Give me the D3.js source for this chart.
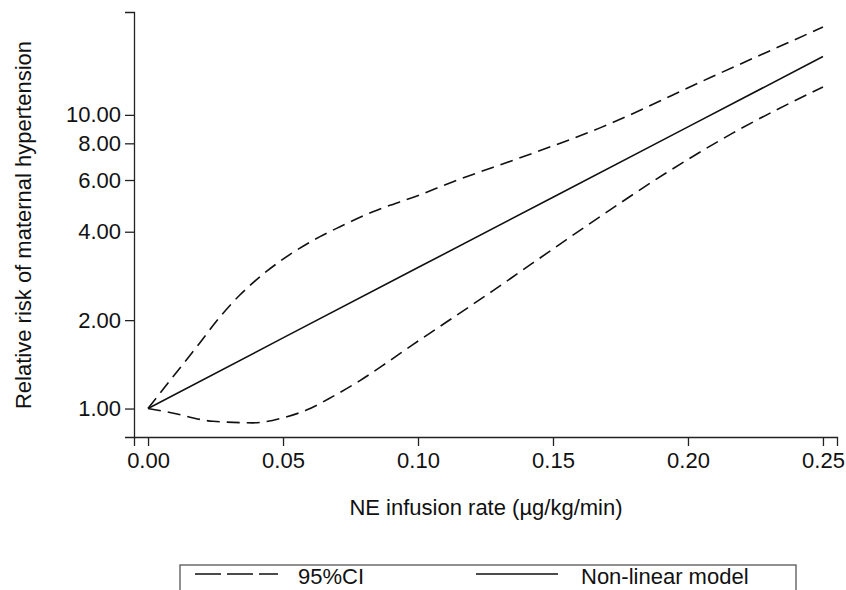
<!DOCTYPE html>
<html>
<head>
<meta charset="utf-8">
<script src="https://cdn.jsdelivr.net/npm/d3@7"></script>
<style>
  body { margin: 0; background: #fff; }
  svg { font-family: "Liberation Sans", Arial, Helvetica, sans-serif; }
</style>
</head>
<body>
<div id="chart"></div>
<script>
// NE infusion rate (µg/kg/min) and relative risk
const modelRate = [0, 0.05, 0.10, 0.15, 0.20, 0.25];
const modelRR   = [1.00, 1.74, 3.02, 5.24, 9.10, 15.8];

const upperRate = [0, 0.0093, 0.0181, 0.0267, 0.0341, 0.0441, 0.0537, 0.0637, 0.0711, 0.0833, 0.1007, 0.113, 0.1378, 0.1674, 0.2083, 0.25];
const upperRR   = [1.00, 1.285, 1.625, 2.055, 2.44, 2.94, 3.40, 3.85, 4.16, 4.68, 5.34, 5.92, 7.14, 9.03, 13.4, 19.9];

const lowerRate = [0, 0.0081, 0.024, 0.0389, 0.05, 0.0589, 0.0685, 0.0785, 0.0885, 0.0981, 0.108, 0.118, 0.1278, 0.1378, 0.155, 0.1674, 0.192, 0.2167, 0.25];
const lowerRR   = [1.00, 0.97, 0.905, 0.894, 0.93, 0.99, 1.10, 1.245, 1.434, 1.651, 1.90, 2.19, 2.52, 2.92, 3.76, 4.50, 6.35, 8.68, 12.45];

const xTicks = [0, 0.05, 0.10, 0.15, 0.20, 0.25];
const yTicks = [1, 2, 4, 6, 8, 10];
const legendLabels = ["95%CI", "Non-linear model"];

const width = 846, height = 590;
const svg = d3.select("#chart").append("svg").attr("width", width).attr("height", height);

const x = d3.scaleLinear().domain([-0.0052, 0.2552]).range([134, 837]);
const y = d3.scaleLog().domain([0.8, 22.4]).range([437, 12]);

const fontSize = "22px";

// axes
const xAxis = svg.append("g").attr("transform", "translate(0,437)")
    .call(d3.axisBottom(x).tickValues(xTicks).tickFormat(d3.format(".2f")).tickSizeOuter(0).tickSize(9).tickPadding(6));
const yAxis = svg.append("g").attr("transform", "translate(134,0)")
    .call(d3.axisLeft(y).tickValues(yTicks).tickFormat(d3.format(".2f")).tickSizeOuter(0).tickSize(9).tickPadding(4));

[xAxis, yAxis].forEach(g => {
  g.select(".domain").attr("stroke", "#222").attr("stroke-width", 1.3);
  g.selectAll(".tick line").attr("stroke", "#222").attr("stroke-width", 1.3);
  g.selectAll(".tick text").attr("fill", "#111").style("font-size", fontSize).style("font-family", "Liberation Sans, Arial, sans-serif");
});

// axis titles
svg.append("text")
    .attr("x", 486)
    .attr("y", 515)
    .attr("text-anchor", "middle")
    .style("font-size", fontSize)
    .attr("fill", "#111")
    .text("NE infusion rate (µg/kg/min)");

svg.append("text")
    .attr("transform", "rotate(-90)")
    .attr("x", -225)
    .attr("y", 31)
    .attr("text-anchor", "middle")
    .style("font-size", fontSize)
    .attr("fill", "#111")
    .text("Relative risk of maternal hypertension");

// curves
const line = d3.line().x(d => x(d[0])).y(d => y(d[1]));
const smooth = d3.line().x(d => x(d[0])).y(d => y(d[1])).curve(d3.curveMonotoneX);
const series = [
  { rate: upperRate, rr: upperRR, dash: "13,7", gen: smooth },
  { rate: lowerRate, rr: lowerRR, dash: "13,7", gen: smooth },
  { rate: modelRate, rr: modelRR, dash: null, gen: line }
];
series.forEach(s => {
  svg.append("path")
      .datum(d3.zip(s.rate, s.rr))
      .attr("d", s.gen)
      .attr("fill", "none")
      .attr("stroke", "#111")
      .attr("stroke-width", 1.6)
      .attr("stroke-dasharray", s.dash);
});

// legend
const legend = svg.append("g");
legend.append("rect")
    .attr("x", 180).attr("y", 565)
    .attr("width", 616).attr("height", 40)
    .attr("fill", "none")
    .attr("stroke", "#555")
    .attr("stroke-width", 1.3);

legend.append("line")
    .attr("x1", 195).attr("x2", 278).attr("y1", 574).attr("y2", 574)
    .attr("stroke", "#111").attr("stroke-width", 1.6)
    .attr("stroke-dasharray", "26,6");
legend.append("text")
    .attr("x", 298).attr("y", 584)
    .style("font-size", fontSize).attr("fill", "#111")
    .text(legendLabels[0]);

legend.append("line")
    .attr("x1", 476).attr("x2", 558).attr("y1", 574).attr("y2", 574)
    .attr("stroke", "#111").attr("stroke-width", 1.6);
legend.append("text")
    .attr("x", 581).attr("y", 584)
    .style("font-size", fontSize).attr("fill", "#111")
    .text(legendLabels[1]);
</script>
</body>
</html>
